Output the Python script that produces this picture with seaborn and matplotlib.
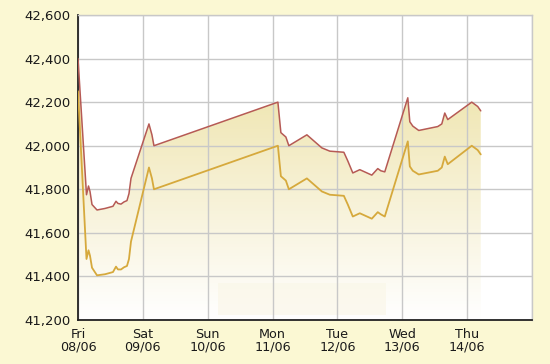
import numpy as np
import pandas as pd
import matplotlib
matplotlib.use("Agg")
import matplotlib.pyplot as plt
import seaborn as sns
from matplotlib.colors import LinearSegmentedColormap
from matplotlib.patches import Rectangle

# ---- data (time in days from Fri 08/06) ----
days = [0, 0.131, 0.162, 0.185, 0.216, 0.293, 0.416, 0.539, 0.586, 0.616, 0.663,
        0.709, 0.755, 0.786, 0.817, 1.094, 1.140, 1.171, 3.082, 3.128, 3.205,
        3.251, 3.529, 3.606, 3.760, 3.883, 4.099, 4.160, 4.237, 4.345, 4.530,
        4.622, 4.669, 4.730, 5.085, 5.116, 5.162, 5.254, 5.547, 5.609, 5.655,
        5.701, 6.071, 6.163, 6.210]
sell = [42400, 41775, 41815, 41790, 41730, 41705, 41712, 41722, 41745, 41735, 41732,
        41742, 41748, 41780, 41850, 42100, 42050, 42000, 42200, 42060, 42040,
        42000, 42050, 42030, 41990, 41975, 41970, 41930, 41875, 41890, 41865,
        41895, 41885, 41880, 42220, 42110, 42090, 42070, 42088, 42100, 42150,
        42120, 42200, 42180, 42160]
buy = [42250, 41480, 41520, 41495, 41440, 41405, 41410, 41420, 41445, 41432, 41432,
       41442, 41448, 41480, 41560, 41900, 41850, 41800, 42000, 41860, 41840,
       41800, 41850, 41830, 41790, 41775, 41770, 41730, 41675, 41690, 41665,
       41695, 41685, 41675, 42020, 41905, 41885, 41868, 41885, 41900, 41950,
       41915, 42000, 41980, 41960]
tick_labels = ["Fri\n08/06", "Sat\n09/06", "Sun\n10/06", "Mon\n11/06",
               "Tue\n12/06", "Wed\n13/06", "Thu\n14/06", ""]
y_ticks = [41200, 41400, 41600, 41800, 42000, 42200, 42400, 42600]

df = pd.DataFrame({"day": days, "sell": sell, "buy": buy})

sns.set_style("whitegrid")
plt.rcParams['font.family'] = ['DejaVu Sans']

bg = "#FBF8D3"
fig = plt.figure(figsize=(5.5, 3.64), dpi=100, facecolor=bg)
ax = fig.add_axes([78/550, 44/364, (532-78)/550, (320-15)/364])
ax.set_facecolor("white")

ymin, ymax = 41200, 42600
xmin, xmax = 0, 7

# gradient fill under sell line
cmap = LinearSegmentedColormap.from_list("g", ["#FFFFFF", "#F6F0D2", "#ECE1A2"])
grad = np.linspace(0, 1, 256).reshape(-1, 1)
im = ax.imshow(grad, extent=[xmin, xmax, ymin, 42450], origin="lower",
               aspect="auto", cmap=cmap, zorder=0.4)
poly = ax.fill_between(df["day"], df["sell"], ymin, color="none", lw=0)
clip = poly.get_paths()[0]
im.set_clip_path(clip, transform=ax.transData)

# faint watermark rectangle
ax.add_patch(Rectangle((0.308, 0.017), 0.37, 0.105, transform=ax.transAxes,
                       facecolor="#FAF6E6", edgecolor="none", alpha=0.6, zorder=0.45))

sns.lineplot(data=df, x="day", y="sell", ax=ax, color="#B65A55", lw=1.1, zorder=3)
sns.lineplot(data=df, x="day", y="buy", ax=ax, color="#D6A93C", lw=1.3, zorder=3)

ax.set_xlim(xmin, xmax)
ax.set_ylim(ymin, ymax)
ax.set_xticks(range(8))
ax.set_xticklabels(tick_labels)
ax.set_yticks(y_ticks)
ax.set_yticklabels([f"{v:,}" for v in y_ticks])
ax.set_xlabel("")
ax.set_ylabel("")

ax.grid(True, color="#C8C8C8", lw=1.0)
ax.set_axisbelow(True)
for s in ["top", "right"]:
    ax.spines[s].set_visible(True)
    ax.spines[s].set_color("#C8C8C8")
    ax.spines[s].set_linewidth(1.0)
for s in ["left", "bottom"]:
    ax.spines[s].set_color("#222222")
    ax.spines[s].set_linewidth(1.3)
ax.tick_params(axis="both", which="both", direction="out", length=4, width=1.2,
               color="#222222", labelsize=9.5, labelcolor="#1a1a1a", pad=1.5)
ax.tick_params(axis="x", labelsize=9.2, pad=2)
for lbl in ax.get_xticklabels():
    lbl.set_linespacing(0.95)

fig.savefig("out.png", dpi=100, facecolor=bg)
